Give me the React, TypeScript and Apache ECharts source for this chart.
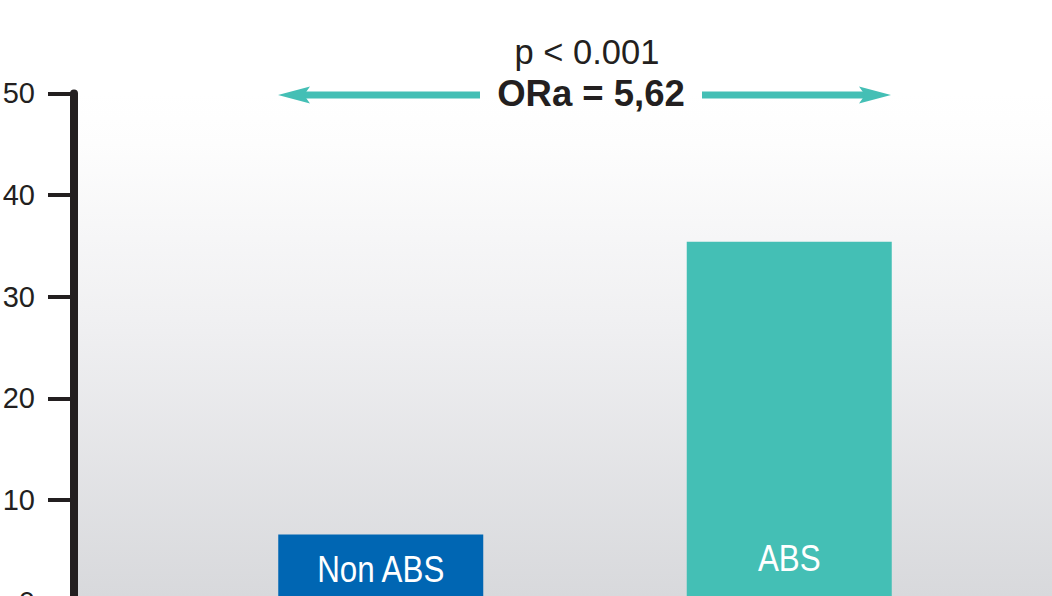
import React, { useEffect, useRef } from "react";
import * as echarts from "echarts";

const categories = ["Non ABS", "ABS"];
const values = [6.6, 35.4];
const barColors = ["#0066b3", "#44bfb5"];
const yTicks = { min: 0, max: 50, interval: 10 };
const pText = "p < 0.001";
const orText = "ORa = 5,62";

export default function App() {
  const ref = useRef<HTMLDivElement>(null);
  useEffect(() => {
    if (!ref.current) return;
    const chart = echarts.init(ref.current, null, { renderer: "svg" });
    const teal = "#44bfb5";
    const arrowY = 95;
    const font = "'Liberation Sans', Arial, sans-serif";
    const baseGraphics: any[] = [
      {
        type: "rect",
        z: -10,
        silent: true,
        shape: { x: 78, y: 93, width: 974, height: 503 },
        style: {
          fill: new echarts.graphic.LinearGradient(0, 0, 0, 1, [
            { offset: 0, color: "#ffffff" },
            { offset: 0.1, color: "#fdfdfd" },
            { offset: 0.45, color: "#f0f0f2" },
            { offset: 1, color: "#d8d9dc" },
          ]),
        },
      },
      {
        type: "text",
        x: 587,
        y: 52,
        style: {
          text: pText,
          fill: "#231f20",
          fontSize: 34.5,
          fontFamily: font,
          align: "center",
          verticalAlign: "middle",
        },
      },
      {
        type: "text",
        x: 591,
        y: 93,
        style: {
          text: orText,
          fill: "#231f20",
          fontSize: 36.5,
          fontWeight: "bold",
          fontFamily: font,
          align: "center",
          verticalAlign: "middle",
        },
      },
      {
        type: "line",
        shape: { x1: 300, y1: arrowY, x2: 480, y2: arrowY },
        style: { stroke: teal, lineWidth: 7 },
      },
      {
        type: "polygon",
        shape: { points: [[278, arrowY], [310, arrowY - 8.5], [304, arrowY], [310, arrowY + 8.5]] },
        style: { fill: teal },
      },
      {
        type: "line",
        shape: { x1: 702, y1: arrowY, x2: 868, y2: arrowY },
        style: { stroke: teal, lineWidth: 7 },
      },
      {
        type: "polygon",
        shape: { points: [[891, arrowY], [859, arrowY - 8.5], [865, arrowY], [859, arrowY + 8.5]] },
        style: { fill: teal },
      },
    ];
    chart.setOption({
      animation: false,
      backgroundColor: "#ffffff",
      grid: {
        left: 176.5,
        width: 817,
        top: 93.4,
        height: 508.3,
        containLabel: false,
        outerBoundsMode: "none",
      },
      xAxis: {
        type: "category",
        data: categories,
        show: false,
      },
      yAxis: {
        type: "value",
        min: yTicks.min,
        max: yTicks.max,
        interval: yTicks.interval,
        position: "left",
        offset: 102.5,
        splitLine: { show: false },
        axisLine: { show: true, lineStyle: { color: "#231f20", width: 8 } },
        axisTick: { show: true, length: 26, inside: false, lineStyle: { color: "#231f20", width: 4 } },
        axisLabel: {
          margin: 39,
          color: "#231f20",
          fontSize: 29,
          fontFamily: font,
          padding: [0, 0, 6, 0],
        },
      },
      series: [
        {
          type: "bar",
          barWidth: 205,
          z: 2,
          data: values.map((v, i) => ({
            value: v,
            itemStyle: { color: barColors[i] },
          })),
        },
      ],
      graphic: baseGraphics,
    });
    // Bar name labels, placed through the chart's own scales
    const labelGraphics = categories.map((c, i) => {
      const bottom = chart.convertToPixel({ gridIndex: 0 }, [i, 0]) as number[];
      const top = chart.convertToPixel({ gridIndex: 0 }, [i, values[i]]) as number[];
      const y = i === 0 ? (bottom[1] + top[1]) / 2 + 1 : bottom[1] - 44;
      return {
        type: "text",
        x: bottom[0],
        y,
        scaleX: 0.87,
        z: 10,
        style: {
          text: c,
          fill: "#ffffff",
          fontSize: 36,
          fontFamily: font,
          align: "center",
          verticalAlign: "middle",
        },
      };
    });
    chart.setOption({ graphic: [...baseGraphics, ...labelGraphics] });
    return () => chart.dispose();
  }, []);
  return (
    <div
      ref={ref}
      style={{ position: "absolute", left: 0, top: 0, width: 1052, height: 596 }}
    />
  );
}
